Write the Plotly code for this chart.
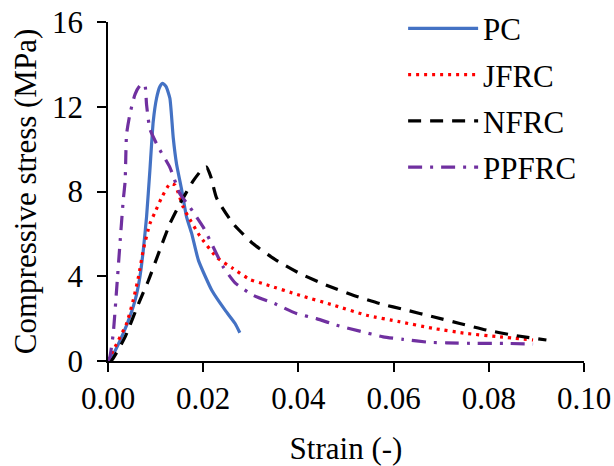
import plotly.graph_objects as go

# ---- data ----
pc_x = [0.0, 0.0008, 0.0032, 0.0046, 0.0057, 0.0067, 0.0074, 0.0081, 0.0088, 0.0095, 0.0102,
        0.0109, 0.0115, 0.0122, 0.0130, 0.0137, 0.0144, 0.0155, 0.0165, 0.0176, 0.0190,
        0.0218, 0.0246, 0.0267, 0.0277]
pc_y = [0.0, 0.2, 1.3, 2.1, 2.87, 3.97, 5.2, 6.8, 9.0, 11.3, 12.4,
        12.95, 13.1, 12.95, 12.4, 10.55, 9.3, 8.05, 6.8, 6.0, 4.75,
        3.34, 2.4, 1.77, 1.33]

jfrc_x = [0.0, 0.0015, 0.0039, 0.0053, 0.0064, 0.0074, 0.0088, 0.0099, 0.0113, 0.0130, 0.0141,
          0.0148, 0.0158, 0.0169, 0.0193, 0.0228, 0.0263, 0.0298, 0.0333, 0.0403, 0.0473,
          0.0543, 0.0613, 0.0683, 0.0753, 0.0823, 0.0893]
jfrc_y = [0.0, 0.67, 1.77, 2.87, 3.97, 5.22, 6.48, 7.03, 7.73, 8.36, 8.3,
          7.9, 7.26, 6.8, 5.9, 4.9, 4.36, 3.85, 3.6, 3.1, 2.64,
          2.16, 1.85, 1.54, 1.3, 1.14, 0.99]

nfrc_x = [0.0, 0.0008, 0.0036, 0.0064, 0.0085, 0.0106, 0.0130, 0.0151, 0.0179, 0.0198, 0.0207,
          0.0216, 0.0228, 0.0263, 0.0305, 0.0354, 0.0403, 0.0459, 0.0515, 0.0571, 0.0627,
          0.0683, 0.0739, 0.0795, 0.0851, 0.0921]
nfrc_y = [0.0, 0.05, 1.14, 2.7, 3.8, 5.07, 6.48, 7.42, 8.5, 9.05, 9.15,
          8.7, 7.7, 6.48, 5.53, 4.75, 4.13, 3.58, 3.1, 2.71, 2.4,
          2.09, 1.77, 1.46, 1.22, 0.99]

ppfrc_x = [0.0, 0.0004, 0.0011, 0.0018, 0.0025, 0.0032, 0.0036, 0.0039, 0.0046, 0.0057, 0.0067,
           0.0077, 0.0081, 0.0088, 0.0106, 0.0130, 0.0151, 0.0172, 0.0200, 0.0221, 0.0242,
           0.0267, 0.0305, 0.0350, 0.0396, 0.0438, 0.0480, 0.0529, 0.0578, 0.0620, 0.0676,
           0.0711, 0.0774, 0.0837, 0.0893]
ppfrc_y = [0.0, 0.2, 1.3, 3.34, 5.5, 7.58, 8.5, 10.7, 11.65, 12.6, 12.99,
           13.05, 12.1, 10.95, 10.08, 9.14, 7.9, 7.26, 6.32, 5.38, 4.44,
           3.69, 3.1, 2.71, 2.24, 2.0, 1.69, 1.41, 1.14, 1.02, 0.88,
           0.86, 0.83, 0.83, 0.8]

x_ticks = [0.0, 0.02, 0.04, 0.06, 0.08, 0.10]
x_labels = ["0.00", "0.02", "0.04", "0.06", "0.08", "0.10"]
y_ticks = [0, 4, 8, 12, 16]

FONT = "Times New Roman, Liberation Serif, Tinos, serif"
FS = 31

fig = go.Figure()
series = [
    ("PC", pc_x, pc_y, "#4472C4", "solid"),
    ("JFRC", jfrc_x, jfrc_y, "#FF0000", "3px,5px"),
    ("NFRC", nfrc_x, nfrc_y, "#000000", "13px,9px"),
    ("PPFRC", ppfrc_x, ppfrc_y, "#7030A0", "14px,8px,3px,8px"),
]
for name, xs, ys, col, dash in series:
    fig.add_trace(go.Scatter(
        x=xs, y=ys, name=name, mode="lines", legendgroup=name,
        line=dict(color=col, width=3.2, dash=dash, shape="spline", smoothing=0.5),
    ))

fig.update_layout(
    width=614, height=466,
    margin=dict(l=108, r=30, t=22, b=105, autoexpand=False),
    paper_bgcolor="white", plot_bgcolor="white",
    font=dict(family=FONT, size=FS, color="black"),
    showlegend=True,
    legend=dict(
        x=0.62, y=1.06, xanchor="left", yanchor="top",
        bgcolor="rgba(0,0,0,0)", font=dict(family=FONT, size=FS, color="black"),
        itemwidth=70, tracegroupgap=3,
    ),
    xaxis=dict(
        range=[0, 0.1], tickvals=x_ticks, ticktext=x_labels, automargin=False,
        showgrid=False, zeroline=False, showline=True, linecolor="black", linewidth=1.5,
        ticks="outside", ticklen=9, tickwidth=1.5, tickcolor="black",
        tickfont=dict(family=FONT, size=FS), ticklabeloverflow="allow",
        title=dict(text="Strain (-)", font=dict(family=FONT, size=FS), standoff=22),
    ),
    yaxis=dict(
        range=[0, 16], tickvals=y_ticks, automargin=False,
        showgrid=False, zeroline=False, showline=True, linecolor="black", linewidth=1.5,
        ticks="outside", ticklen=9, tickwidth=1.5, tickcolor="black",
        tickfont=dict(family=FONT, size=FS), ticklabeloverflow="allow",
        ticklabelstandoff=8,
        title=dict(text="Compressive stress (MPa)", font=dict(family=FONT, size=FS), standoff=6),
    ),
)

# remove the browser's default 8px body margin so the figure fills the window
fig.write_html("out.html",
               config={"displayModeBar": False},
               post_script="document.body.style.margin='0';document.body.style.overflow='hidden';")
